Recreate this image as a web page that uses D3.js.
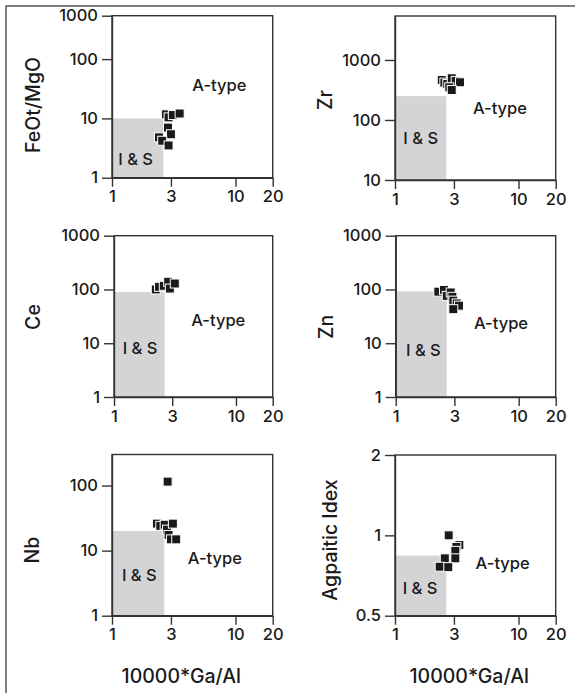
<!DOCTYPE html>
<html>
<head>
<meta charset="utf-8">
<script src="https://cdn.jsdelivr.net/npm/d3@7"></script>
<style>
    body { margin: 0; background: #fff; }
    svg text { font-family: Inter, "Liberation Sans", sans-serif; fill: #1a1a1a; font-weight: 500; }
</style>
</head>
<body>
<svg id="chart" width="575" height="693"></svg>
<script>
// shared x axis: 10000*Ga/Al
const gaAlTicks = [1, 3, 10, 20];

const yTitles = ['FeOt/MgO', 'Zr', 'Ce', 'Zn', 'Nb', 'Agpaitic Idex'];
const yDomains = [[1, 540], [10, 5400], [1, 1000], [1, 1000], [1, 300], [0.5, 2]];
// the top tick of the first panel is labelled 1000 in the source figure
const yTickValues = [
    [1, 10, 100, 540],
    [10, 100, 1000],
    [1, 10, 100, 1000],
    [1, 10, 100, 1000],
    [1, 10, 100],
    [0.5, 1, 2]
];
const yTickLabels = [
    ['1', '10', '100', '1000'],
    ['10', '100', '1000'],
    ['1', '10', '100', '1000'],
    ['1', '10', '100', '1000'],
    ['1', '10', '100'],
    ['0.5', '1', '2']
];

// upper corner of the I & S field [Ga/Al, y]
const isField = [[2.6, 10], [2.6, 250], [2.6, 90], [2.6, 92], [2.65, 20], [2.6, 0.84]];

// samples [10000*Ga/Al, value]
const feoMgo = [[2.73, 11.7], [2.87, 10.4], [3.11, 11.4], [3.53, 12.1], [2.84, 7.0],
    [3.0, 5.4], [2.40, 4.8], [2.55, 4.2], [2.87, 3.5]];
const zr = [[2.39, 464], [2.51, 419], [2.65, 398], [2.88, 495], [3.10, 447],
    [3.36, 425], [2.75, 350], [2.88, 316]];
const ce = [[2.2, 100], [2.34, 112], [2.56, 117], [2.78, 139], [2.87, 104], [3.15, 129]];
const zn = [[2.22, 91], [2.47, 98], [2.6, 76], [2.80, 88], [2.89, 73], [2.94, 62],
    [3.13, 55], [3.27, 50], [2.94, 43]];
const nb = [[2.82, 115], [2.31, 26], [2.46, 24], [2.67, 25], [2.79, 21], [3.11, 26],
    [2.87, 17.4], [3.0, 14.9], [3.31, 14.9]];
const agpaitic = [[2.72, 1.0], [3.32, 0.92], [3.14, 0.905], [3.08, 0.875], [3.08, 0.82],
    [2.53, 0.82], [2.30, 0.763], [2.70, 0.76]];

const samples = [feoMgo, zr, ce, zn, nb, agpaitic];

// box layout in pixels, label spots as fractions of the box
const layout = [
    {left: 112, right: 272.7, top: 15.7, bottom: 177.7, tx: 33, ty: 105, is: [0.147, 0.886], a: [0.668, 0.428]},
    {left: 395, right: 555.7, top: 16, bottom: 180, tx: 325, ty: 100, is: [0.16, 0.746], a: [0.653, 0.563]},
    {left: 114, right: 272.7, top: 235.7, bottom: 397, tx: 33, ty: 317, is: [0.164, 0.698], a: [0.657, 0.523]},
    {left: 395.7, right: 555.7, top: 235.7, bottom: 397, tx: 326, ty: 327, is: [0.173, 0.709], a: [0.658, 0.543]},
    {left: 112, right: 272.7, top: 454.5, bottom: 615.7, tx: 32, ty: 550, is: [0.17, 0.748], a: [0.64, 0.644]},
    {left: 395, right: 555.7, top: 455, bottom: 615.7, tx: 330, ty: 540, is: [0.156, 0.83], a: [0.67, 0.674]}
];
const xTitleX = [null, null, null, null, 181.3, 469.2];

const svg = d3.select('#chart');
const ink = '#333';

// outer frame (cut at right and bottom)
svg.append('path')
    .attr('d', 'M6,693V6H575')
    .attr('fill', 'none')
    .attr('stroke', '#555')
    .attr('stroke-width', 1.5);

layout.forEach((p, i) => {
    let x = d3.scaleLog().domain([1, 20]).range([p.left, p.right]);
    let y = d3.scaleLog().domain(yDomains[i]).range([p.bottom, p.top]);
    let g = svg.append('g');

    // I & S field
    g.append('rect')
        .attr('x', x(1))
        .attr('y', y(isField[i][1]))
        .attr('width', x(isField[i][0]) - x(1))
        .attr('height', y(yDomains[i][0]) - y(isField[i][1]))
        .attr('fill', '#d4d4d6');

    g.append('rect')
        .attr('x', p.left)
        .attr('y', p.top)
        .attr('width', p.right - p.left)
        .attr('height', p.bottom - p.top)
        .attr('fill', 'none')
        .attr('stroke', ink)
        .attr('stroke-width', 1.4);

    let xAxis = g.append('g')
        .attr('transform', `translate(0,${p.bottom})`)
        .call(d3.axisBottom(x).tickValues(gaAlTicks).tickFormat(d3.format('d'))
            .tickSize(9).tickSizeOuter(0).tickPadding(4));

    let yAxis = g.append('g')
        .attr('transform', `translate(${p.left},0)`)
        .call(d3.axisLeft(y).tickValues(yTickValues[i]).tickFormat((d, k) => yTickLabels[i][k])
            .tickSize(10).tickSizeOuter(0).tickPadding(4));

    [xAxis, yAxis].forEach(a => {
        a.select('.domain').attr('stroke', ink).attr('stroke-width', 1.4);
        a.selectAll('.tick line').attr('stroke', ink).attr('stroke-width', 1.4);
        a.selectAll('.tick text').attr('font-size', 16.5).attr('fill', '#1a1a1a')
            .attr('font-family', 'Inter, "Liberation Sans", sans-serif');
    });

    g.append('text')
        .attr('transform', `translate(${p.tx},${p.ty}) rotate(-90)`)
        .attr('text-anchor', 'middle')
        .attr('dy', '0.35em')
        .attr('font-size', 19.5)
        .text(yTitles[i]);

    g.append('text')
        .attr('x', p.left + p.is[0] * (p.right - p.left))
        .attr('y', p.top + p.is[1] * (p.bottom - p.top))
        .attr('text-anchor', 'middle')
        .attr('dy', '0.35em')
        .attr('font-size', 16.5)
        .text('I & S');

    g.append('text')
        .attr('x', p.left + p.a[0] * (p.right - p.left))
        .attr('y', p.top + p.a[1] * (p.bottom - p.top))
        .attr('text-anchor', 'middle')
        .attr('dy', '0.35em')
        .attr('font-size', 16.5)
        .text('A-type');

    g.selectAll('rect.pt')
        .data(samples[i])
        .join('rect')
        .attr('class', 'pt')
        .attr('x', d => x(d[0]) - 4.5)
        .attr('y', d => y(d[1]) - 4.5)
        .attr('width', 9)
        .attr('height', 9)
        .attr('fill', '#1a1a1a')
        .attr('stroke', '#fff')
        .attr('stroke-width', 1);

    if (xTitleX[i] !== null) {
        g.append('text')
            .attr('x', xTitleX[i])
            .attr('y', 683)
            .attr('text-anchor', 'middle')
            .attr('font-size', 19.5)
            .text('10000*Ga/Al');
    }
});
</script>
</body>
</html>
